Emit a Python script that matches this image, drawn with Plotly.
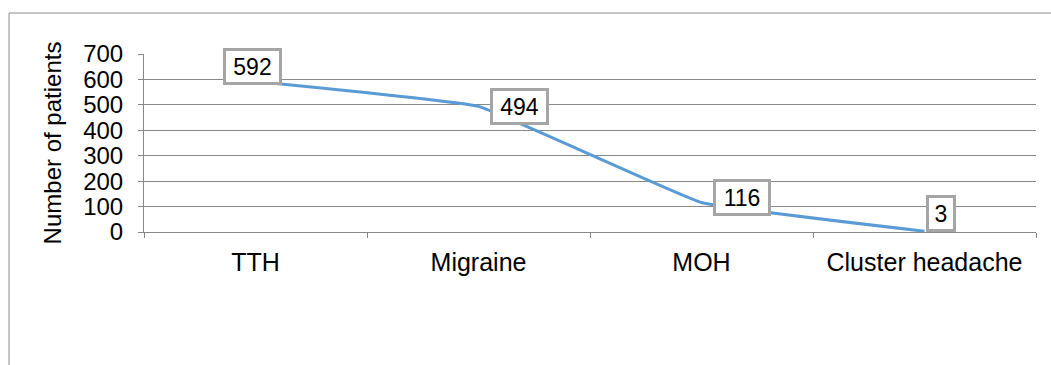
import plotly.graph_objects as go

# Headache diagnoses and patient counts
categories = ["TTH", "Migraine", "MOH", "Cluster headache"]
patients = [592, 494, 116, 3]
y_ticks = [0, 100, 200, 300, 400, 500, 600, 700]

# Label box placement around each point (pixel shifts and box size)
label_dx = [-3, 41, 40, 16]
label_dy = [15, 0, 5, 18]
label_w = [47, 47, 46, 18]

GRID = "#888888"
FONT = "Liberation Sans, Arial, sans-serif"

fig = go.Figure()
fig.add_trace(go.Scatter(
    x=categories, y=patients, mode="lines",
    line=dict(color="#5B9BD5", width=3, shape="spline", smoothing=0.25),
    hoverinfo="x+y", showlegend=False,
))

for cat, val, dx, dy, w in zip(categories, patients, label_dx, label_dy, label_w):
    fig.add_annotation(
        x=cat, y=val, text=str(val), showarrow=False,
        xshift=dx, yshift=dy, width=w, height=25, align="center",
        font=dict(family=FONT, size=23, color="#000000"),
        bgcolor="#FFFFFF", bordercolor="#A5A5A5", borderwidth=3, borderpad=3,
    )

# Outer chart frame (left and top edges)
fig.add_shape(type="line", xref="paper", yref="paper",
              x0=-0.1513, x1=-0.1513, y0=-0.8, y1=1.2303,
              line=dict(color="#8C8C8C", width=1))
fig.add_shape(type="line", xref="paper", yref="paper",
              x0=-0.1513, x1=1.1, y0=1.2303, y1=1.2303,
              line=dict(color="#8C8C8C", width=1))

fig.update_layout(
    width=1051, height=365,
    margin=dict(l=144, r=15, t=54, b=133),
    paper_bgcolor="#FFFFFF", plot_bgcolor="#FFFFFF",
    font=dict(family=FONT, color="#000000"),
    xaxis=dict(
        type="category", range=[-0.5, 3.5],
        tickson="boundaries", ticks="outside", ticklen=5, tickcolor=GRID,
        showline=True, linecolor=GRID, linewidth=1, showgrid=False,
        tickfont=dict(family=FONT, size=25), ticklabelstandoff=8,
        fixedrange=True,
    ),
    yaxis=dict(
        range=[0, 700], tickvals=y_ticks,
        ticks="outside", ticklen=5, tickcolor=GRID,
        showline=True, linecolor=GRID, linewidth=1,
        showgrid=True, gridcolor=GRID, gridwidth=1, zeroline=False,
        tickfont=dict(family=FONT, size=24), ticklabelstandoff=10,
        title=dict(text="Number of patients", font=dict(family=FONT, size=24), standoff=14),
        fixedrange=True,
    ),
)

fig.write_html("out.html")
